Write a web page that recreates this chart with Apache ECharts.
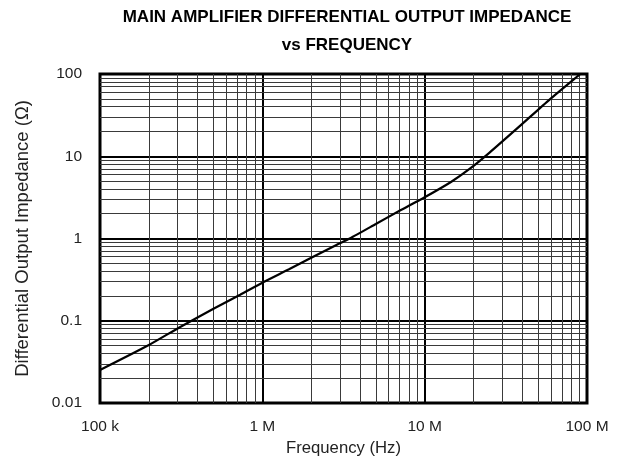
<!DOCTYPE html>
<html>
<head>
<meta charset="utf-8">
<script src="https://cdn.jsdelivr.net/npm/echarts@6/dist/echarts.min.js"></script>
<style>html,body{margin:0;padding:0;background:#fff}#c{width:626px;height:472px}</style>
</head>
<body>
<div id="c"></div>
<script>
// Data
const freqHz = [100e3, 200e3, 310e3, 500e3, 730e3, 1e6, 1.47e6, 1.96e6, 2.86e6, 3.45e6, 5e6, 7e6, 10e6, 14.6e6, 18.9e6, 25e6, 38.5e6, 58.8e6, 88e6, 91e6];
const impedanceOhm = [0.0252, 0.0507, 0.0835, 0.14, 0.207, 0.29, 0.425, 0.57, 0.835, 1.0, 1.5, 2.17, 3.17, 4.9, 7.0, 11.0, 23.2, 48.9, 95, 100];

const xTickLabels = ['100 k', '1 M', '10 M', '100 M'];   // decades 1e5..1e8
const yTickLabels = ['0.01', '0.1', '1', '10', '100'];   // decades 1e-2..1e2
const xDecades = [1e5, 1e6, 1e7];
const yDecades = [0.01, 0.1, 1, 10];
const minorMultipliers = [2, 3, 4, 5, 6, 7, 8, 9];

const minorX = [];
xDecades.forEach(d => minorMultipliers.forEach(m => minorX.push({ xAxis: d * m })));
const minorY = [];
yDecades.forEach(d => minorMultipliers.forEach(m => minorY.push({ yAxis: d * m })));

const chart = echarts.init(document.getElementById('c'), null, { renderer: 'canvas' });
const font = 'Liberation Sans, Arial, Helvetica, sans-serif';

chart.setOption({
  animation: false,
  backgroundColor: '#fff',
  title: {
    text: 'MAIN AMPLIFIER DIFFERENTIAL OUTPUT IMPEDANCE\nvs FREQUENCY',
    left: 342, top: -2, textAlign: 'center',
    textStyle: { fontFamily: font, fontSize: 17, fontWeight: 'bold', color: '#000', lineHeight: 28 }
  },
  grid: { left: 100, right: 39, top: 74, bottom: 69, show: true, borderColor: '#000', borderWidth: 3, containLabel: false },
  xAxis: {
    type: 'log', logBase: 10, min: 1e5, max: 1e8,
    name: 'Frequency (Hz)', nameLocation: 'middle', nameGap: 37,
    nameTextStyle: { fontFamily: font, fontSize: 16.7, color: '#222' },
    axisLine: { show: false }, axisTick: { show: false },
    axisLabel: {
      fontFamily: font, fontSize: 15.5, color: '#222', margin: 16,
      formatter: v => xTickLabels[Math.round(Math.log10(v)) - 5]
    },
    splitLine: { show: true, lineStyle: { color: '#000', width: 2 } }
  },
  yAxis: {
    type: 'log', logBase: 10, min: 0.01, max: 100,
    name: 'Differential Output Impedance (Ω)', nameLocation: 'middle', nameGap: 68,
    nameTextStyle: { fontFamily: font, fontSize: 18.5, color: '#222' },
    axisLine: { show: false }, axisTick: { show: false },
    axisLabel: {
      fontFamily: font, fontSize: 15.5, color: '#222', margin: 18,
      formatter: v => yTickLabels[Math.round(Math.log10(v)) + 2]
    },
    splitLine: { show: true, lineStyle: { color: '#000', width: 2 } }
  },
  series: [
    {
      type: 'line', data: [], silent: true,
      markLine: {
        silent: true, symbol: 'none', animation: false,
        label: { show: false },
        lineStyle: { color: '#3a3a3a', width: 1, type: 'solid' },
        emphasis: { disabled: true },
        data: minorX.concat(minorY)
      }
    },
    {
      type: 'line',
      data: freqHz.map((f, i) => [f, impedanceOhm[i]]),
      showSymbol: false, smooth: 0.2,
      lineStyle: { color: '#000', width: 2.2 },
      z: 5
    }
  ]
});
</script>
</body>
</html>
